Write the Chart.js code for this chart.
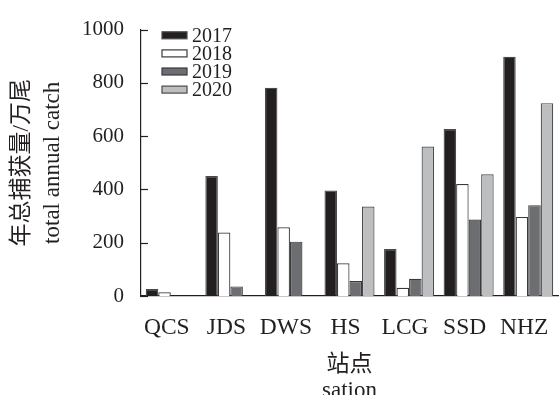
<!DOCTYPE html>
<html>
<head>
<meta charset="utf-8">
<script src="https://cdn.jsdelivr.net/npm/chart.js@4/dist/chart.umd.min.js"></script>
<style>
  html, body { margin: 0; padding: 0; background: #ffffff; }
  #wrap { width: 560px; height: 395px; }
</style>
</head>
<body>
<div id="wrap"><canvas id="c" width="560" height="395"></canvas></div>
<script>
// Stations along the river (x categories)
const stations = ['QCS', 'JDS', 'DWS', 'HS', 'LCG', 'SSD', 'NHZ'];

// Annual catch per station, 10^4 individuals
const catch2017 = [26, 450, 782, 396, 176, 627, 898];
const catch2018 = [14, 238, 258, 123, 31, 420, 297];
const catch2019 = [null, 36, 204, 56, 65, 287, 341];
const catch2020 = [null, null, null, 336, 561, 457, 724];

const yearLabels = ['2017', '2018', '2019', '2020'];
const yTicks = [0, 200, 400, 600, 800, 1000];

const INK = '#231f20';
const SERIF = "'Liberation Serif', 'Noto Sans CJK SC', serif";
const fills = ['#231f20', '#ffffff', '#6d6e71', '#bcbec0'];
const edges = ['#4a4a4c', '#3a3a3c', '#3a3a3c', '#4a4a4c'];

const series = [catch2017, catch2018, catch2019, catch2020];
const datasets = series.map((vals, i) => ({
  label: yearLabels[i],
  data: vals,
  backgroundColor: fills[i],
  borderColor: edges[i],
  borderWidth: 1.2,
  borderSkipped: 'bottom',
  categoryPercentage: 0.84,
  barPercentage: 1.0
}));

// Legend drawn as a stacked list in the upper-left of the plot area
const cornerLegend = {
  id: 'cornerLegend',
  afterDraw(chart) {
    const ctx = chart.ctx;
    const x0 = 162, boxW = 25, boxH = 7, y0 = 35.3, step = 18.1;
    ctx.save();
    ctx.font = '20px ' + SERIF;
    ctx.textBaseline = 'middle';
    ctx.textAlign = 'left';
    chart.data.datasets.forEach((ds, i) => {
      const cy = y0 + i * step;
      ctx.fillStyle = ds.backgroundColor;
      ctx.fillRect(x0, cy - boxH / 2, boxW, boxH);
      ctx.strokeStyle = ds.borderColor;
      ctx.lineWidth = 1.2;
      ctx.strokeRect(x0, cy - boxH / 2, boxW, boxH);
      ctx.fillStyle = INK;
      ctx.fillText(ds.label, x0 + boxW + 5, cy + 1);
    });
    ctx.restore();
  }
};

// Short inward tick marks on the value axis
const inwardTicks = {
  id: 'inwardTicks',
  afterDraw(chart) {
    const ctx = chart.ctx;
    const y = chart.scales.y;
    const left = chart.chartArea.left;
    ctx.save();
    ctx.strokeStyle = INK;
    ctx.lineWidth = 1.2;
    y.ticks.forEach(t => {
      const py = Math.round(y.getPixelForValue(t.value)) + 0.5;
      ctx.beginPath();
      ctx.moveTo(left, py);
      ctx.lineTo(left + 7, py);
      ctx.stroke();
    });
    ctx.restore();
  }
};

new Chart(document.getElementById('c'), {
  type: 'bar',
  data: { labels: stations, datasets },
  options: {
    responsive: false,
    animation: false,
    devicePixelRatio: 1,
    layout: { padding: { top: 23, right: 2, bottom: 0, left: 0 } },
    plugins: {
      legend: { display: false },
      tooltip: { enabled: false }
    },
    scales: {
      x: {
        offset: true,
        grid: { display: false, drawTicks: false },
        border: { display: true, color: INK, width: 1.2 },
        ticks: {
          color: INK,
          font: { family: SERIF, size: 23.5 },
          padding: 18,
          labelOffset: -4,
          maxRotation: 0,
          autoSkip: false
        },
        title: {
          display: true,
          text: ['站点', 'sation'],
          color: INK,
          font: { family: SERIF, size: 23, lineHeight: 1.12 },
          padding: { top: 0, bottom: -9 }
        },
        afterFit(scale) {
          scale.height = 99;
          scale.paddingLeft = 0;
          scale.paddingRight = 0;
        }
      },
      y: {
        min: 0,
        max: 1000,
        afterBuildTicks(scale) { scale.ticks = yTicks.map(v => ({ value: v })); },
        grid: { display: false, drawTicks: false },
        border: { display: true, color: INK, width: 1.2 },
        ticks: {
          color: INK,
          font: { family: SERIF, size: 21 },
          padding: 17,
          callback: v => String(v)
        },
        title: {
          display: true,
          text: ['年总捕获量/万尾', 'total annual catch'],
          color: INK,
          font: { family: SERIF, size: 23, lineHeight: 1.36 },
          padding: { top: 6, bottom: 0 }
        },
        afterFit(scale) { scale.width = 141; }
      }
    }
  },
  plugins: [cornerLegend, inwardTicks]
});
</script>
</body>
</html>
